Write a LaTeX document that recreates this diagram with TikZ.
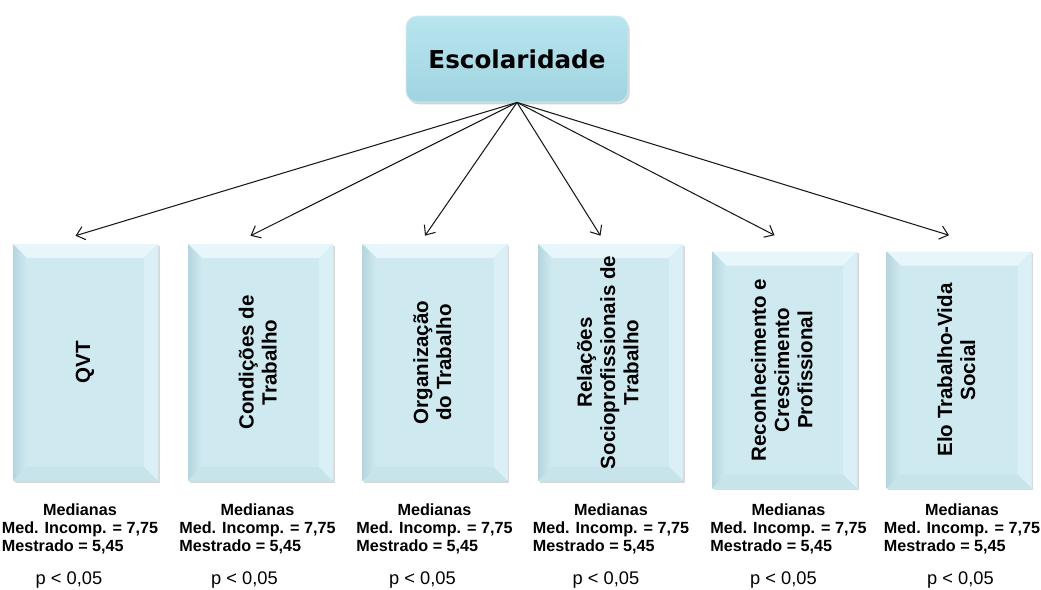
\documentclass[tikz,border=0pt]{standalone}
\usepackage{fontspec}
\usepackage{graphicx}
\setmainfont{Liberation Sans}
\newfontfamily\titlefont{DejaVu Sans}
\usetikzlibrary{shadows,arrows.meta}

\definecolor{headlight}{RGB}{184,229,238}
\definecolor{headdark}{RGB}{160,212,225}
\definecolor{headedge}{RGB}{205,238,245}
\definecolor{boxblue}{RGB}{207,233,240}
\definecolor{bevtop}{RGB}{230,246,250}
\definecolor{bevleft}{RGB}{182,213,222}
\definecolor{bevright}{RGB}{218,240,246}
\definecolor{bevbottom}{RGB}{200,228,235}

\newcommand{\vlabel}[1]{\rotatebox{90}{\begin{tabular}{@{}c@{}}#1\end{tabular}}}
\newcommand{\medtext}{\begin{tabular}{@{}l@{}}\multicolumn{1}{@{}c@{}}{Medianas}\\Med. Incomp. = 7,75\\Mestrado = 5,45\end{tabular}}

\tikzset{
    headbox/.style={rectangle, rounded corners=0.28cm, minimum width=5.55cm, minimum height=2.15cm,
        draw=headedge, line width=0.6pt, top color=headlight, bottom color=headdark,
        drop shadow={shadow xshift=0.04cm, shadow yshift=-0.06cm, opacity=0.35},
        font=\titlefont\fontsize{17.5}{20}\selectfont\bfseries},
    dimbox/.style={rectangle, minimum width=3.625cm, minimum height=5.925cm, inner sep=0pt,
        fill=boxblue, drop shadow={shadow xshift=0.04cm, shadow yshift=-0.04cm, opacity=0.3},
        font=\fontsize{14.6}{16.5}\selectfont\bfseries,
        path picture={
            \fill[bevtop] (path picture bounding box.north west) -- (path picture bounding box.north east)
                -- ([xshift=-3.5mm,yshift=-3.5mm]path picture bounding box.north east)
                -- ([xshift=3.5mm,yshift=-3.5mm]path picture bounding box.north west) -- cycle;
            \shade[left color=bevleft, right color=boxblue] (path picture bounding box.north west)
                -- ([xshift=3.5mm,yshift=-3.5mm]path picture bounding box.north west)
                -- ([xshift=3.5mm,yshift=3.5mm]path picture bounding box.south west)
                -- (path picture bounding box.south west) -- cycle;
            \fill[bevright] (path picture bounding box.north east)
                -- ([xshift=-3.5mm,yshift=-3.5mm]path picture bounding box.north east)
                -- ([xshift=-3.5mm,yshift=3.5mm]path picture bounding box.south east)
                -- (path picture bounding box.south east) -- cycle;
            \fill[bevbottom] (path picture bounding box.south west) -- (path picture bounding box.south east)
                -- ([xshift=-3.5mm,yshift=3.5mm]path picture bounding box.south east)
                -- ([xshift=3.5mm,yshift=3.5mm]path picture bounding box.south west) -- cycle;
        }},
    medstat/.style={font=\fontsize{11.5}{12.8}\selectfont\bfseries, inner sep=0pt},
    pstat/.style={font=\fontsize{13}{15}\selectfont, inner sep=0pt}
}

\begin{document}
\begin{tikzpicture}[>={Straight Barb[length=2mm,width=3.4mm]}]
    \useasboundingbox (0,0) rectangle (26.025,-14.75);

    \node[headbox] (esc) at (12.925,-1.475) {Escolaridade};

    \node[dimbox] (qvt) at (2.1375,-9.0625) {\vlabel{QVT}};
    \node[dimbox] (cond) at (6.5125,-9.0625) {\vlabel{Condições de\\Trabalho}};
    \node[dimbox] (org) at (10.875,-9.0625) {\vlabel{Organização\\do Trabalho}};
    \node[dimbox] (rel) at (15.2625,-9.0625) {\vlabel{Relações\\Socioprofissionais de\\Trabalho}};
    \node[dimbox] (rec) at (19.6125,-9.25) {\vlabel{Reconhecimento e\\Crescimento\\Profissional}};
    \node[dimbox] (elo) at (23.975,-9.25) {\vlabel{Elo Trabalho-Vida\\Social}};

    \node[medstat] (m1) at (2.0,-13.25) {\medtext};
    \node[medstat] (m2) at (6.4375,-13.25) {\medtext};
    \node[medstat] (m3) at (10.8625,-13.25) {\medtext};
    \node[medstat] (m4) at (15.275,-13.25) {\medtext};
    \node[medstat] (m5) at (19.7125,-13.25) {\medtext};
    \node[medstat] (m6) at (24.05,-13.25) {\medtext};

    \node[pstat] (p1) at (1.725,-14.5) {p < 0,05};
    \node[pstat] (p2) at (6.1125,-14.5) {p < 0,05};
    \node[pstat] (p3) at (10.5625,-14.5) {p < 0,05};
    \node[pstat] (p4) at (15.15,-14.5) {p < 0,05};
    \node[pstat] (p5) at (19.5875,-14.5) {p < 0,05};
    \node[pstat] (p6) at (24.0125,-14.5) {p < 0,05};

    \path[->,line width=0.75pt,black!90]
    (esc.south) edge ([shift={(-0.25,0.2)}]qvt.north)
    (esc.south) edge ([shift={(-0.25,0.2)}]cond.north)
    (esc.south) edge ([shift={(-0.25,0.2)}]org.north)
    (esc.south) edge ([shift={(-0.25,0.2)}]rel.north)
    (esc.south) edge ([shift={(-0.25,0.4)}]rec.north)
    (esc.south) edge ([shift={(-0.25,0.4)}]elo.north);
\end{tikzpicture}
\end{document}
